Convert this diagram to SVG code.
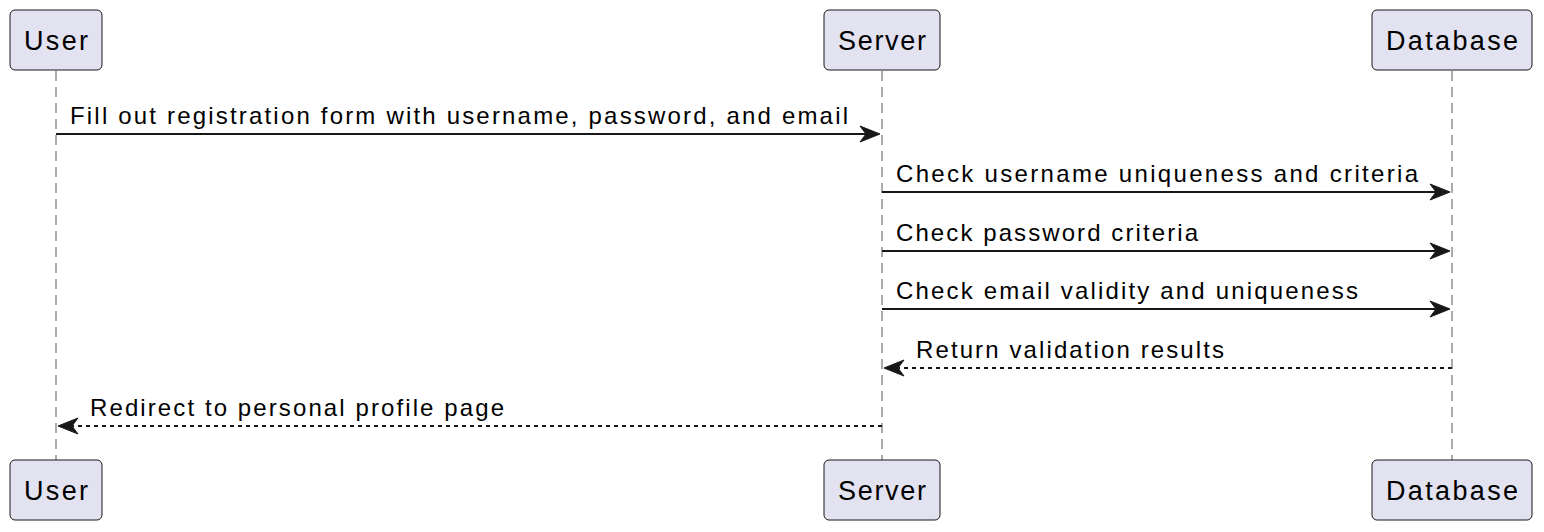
<svg xmlns="http://www.w3.org/2000/svg" width="1544" height="532" viewBox="0 0 1544 532">
<style>
.box{fill:#E2E2F0;stroke:#181818;stroke-width:1}
.life{stroke:#181818;stroke-opacity:0.6;stroke-width:1.2;stroke-dasharray:10,6;fill:none}
.msg{stroke:#181818;stroke-width:2;fill:none}
.ret{stroke:#181818;stroke-width:2;stroke-dasharray:4,4;fill:none}
.head{fill:#181818;stroke:#181818;stroke-width:1}
text{font-family:"Liberation Sans",Arial,sans-serif;fill:#000}
.pt{font-size:27px}
.mt{font-size:24px}
</style>
<rect width="1544" height="532" fill="#FFFFFF"/>
<g id="lifelines">
<line class="life" x1="56" y1="71" x2="56" y2="460"/>
<line class="life" x1="882" y1="71" x2="882" y2="460"/>
<line class="life" x1="1452" y1="71" x2="1452" y2="460"/>
</g>
<g id="user-top"><rect class="box" x="10" y="10" width="92" height="60" rx="5"/><text class="pt" x="24" y="50" textLength="64" lengthAdjust="spacing">User</text></g>
<g id="server-top"><rect class="box" x="824" y="10" width="116" height="60" rx="5"/><text class="pt" x="838" y="50" textLength="88" lengthAdjust="spacing">Server</text></g>
<g id="database-top"><rect class="box" x="1372" y="10" width="160" height="60" rx="5"/><text class="pt" x="1386" y="50" textLength="132" lengthAdjust="spacing">Database</text></g>
<g id="user-bottom"><rect class="box" x="10" y="460" width="92" height="60" rx="5"/><text class="pt" x="24" y="500" textLength="64" lengthAdjust="spacing">User</text></g>
<g id="server-bottom"><rect class="box" x="824" y="460" width="116" height="60" rx="5"/><text class="pt" x="838" y="500" textLength="88" lengthAdjust="spacing">Server</text></g>
<g id="database-bottom"><rect class="box" x="1372" y="460" width="160" height="60" rx="5"/><text class="pt" x="1386" y="500" textLength="132" lengthAdjust="spacing">Database</text></g>
<g id="connectors">
<line class="msg" x1="56" y1="134" x2="876" y2="134"/>
<polygon class="head" points="880,134 860,126 866,134 860,142"/>
<text class="mt" x="70" y="124" textLength="778" lengthAdjust="spacing">Fill out registration form with username, password, and email</text>
<line class="msg" x1="882" y1="192" x2="1446" y2="192"/>
<polygon class="head" points="1450,192 1430,184 1436,192 1430,200"/>
<text class="mt" x="896" y="182" textLength="522" lengthAdjust="spacing">Check username uniqueness and criteria</text>
<line class="msg" x1="882" y1="251" x2="1446" y2="251"/>
<polygon class="head" points="1450,251 1430,243 1436,251 1430,259"/>
<text class="mt" x="896" y="241" textLength="302" lengthAdjust="spacing">Check password criteria</text>
<line class="msg" x1="882" y1="309" x2="1446" y2="309"/>
<polygon class="head" points="1450,309 1430,301 1436,309 1430,317"/>
<text class="mt" x="896" y="299" textLength="462" lengthAdjust="spacing">Check email validity and uniqueness</text>
<line class="ret" x1="888" y1="368" x2="1452" y2="368"/>
<polygon class="head" points="884,368 904,360 898,368 904,376"/>
<text class="mt" x="916" y="358" textLength="308" lengthAdjust="spacing">Return validation results</text>
<line class="ret" x1="62" y1="426" x2="882" y2="426"/>
<polygon class="head" points="58,426 78,418 72,426 78,434"/>
<text class="mt" x="90" y="416" textLength="414" lengthAdjust="spacing">Redirect to personal profile page</text>
</g>
</svg>
